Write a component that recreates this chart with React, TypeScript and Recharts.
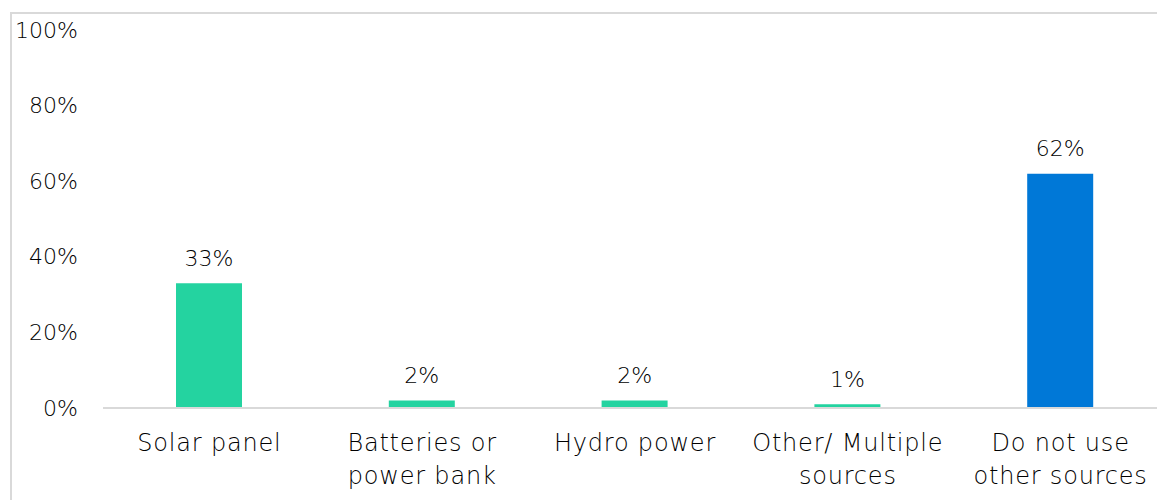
import React from 'react';
import { BarChart, Bar, XAxis, YAxis, Cell, LabelList } from 'recharts';

const categories = [
  'Solar panel',
  'Batteries or power bank',
  'Hydro power',
  'Other/ Multiple sources',
  'Do not use other sources',
];
// wrapped label lines per category
const categoryLines = [
  ['Solar panel'],
  ['Batteries or', 'power bank'],
  ['Hydro power'],
  ['Other/ Multiple', 'sources'],
  ['Do not use', 'other sources'],
];
const shares = [33, 2, 2, 1, 62];
const yTicks = [0, 20, 40, 60, 80, 100];

const GREEN = '#24D3A0';
const BLUE = '#0078D7';
const TEXT = '#000';
const FONT = '"DejaVu Sans", sans-serif';
const FONT_WEIGHT = 200;

const data = categories.map((name, i) => ({ name, value: shares[i] }));

const XTick = (props: any) => {
  const { x, y, index } = props;
  const lines = categoryLines[index] || [];
  return (
    <g>
      {lines.map((line, i) => (
        <text
          key={i}
          x={x}
          y={y + 27 + i * 33}
          textAnchor="middle"
          dominantBaseline="central"
          fontFamily={FONT}
          fontSize={24}
          fontWeight={FONT_WEIGHT}
          letterSpacing={0.8}
          fill={TEXT}
        >
          {line}
        </text>
      ))}
    </g>
  );
};

const YTick = (props: any) => {
  const { y, payload } = props;
  return (
    <text
      x={78}
      y={y}
      textAnchor="end"
      dominantBaseline="central"
      fontFamily={FONT}
      fontSize={22}
      fontWeight={FONT_WEIGHT}
      fill={TEXT}
    >
      {`${payload.value}%`}
    </text>
  );
};

const ValueLabel = (props: any) => {
  const { x, y, width, value } = props;
  return (
    <text
      x={x + width / 2}
      y={y - 25}
      textAnchor="middle"
      dominantBaseline="central"
      fontFamily={FONT}
      fontSize={22}
      fontWeight={FONT_WEIGHT}
      fill={TEXT}
    >
      {`${value}%`}
    </text>
  );
};

export default function App() {
  return (
    <div
      style={{
        position: 'absolute',
        left: 0,
        top: 0,
        width: 1157,
        height: 500,
        overflow: 'hidden',
        background: '#fff',
      }}
    >
      {/* chart frame: only the top and left edges fall inside the view */}
      <div
        style={{
          position: 'absolute',
          left: 10,
          top: 12,
          width: 1200,
          height: 600,
          borderTop: '2px solid #d9d9d9',
          borderLeft: '2px solid #d9d9d9',
        }}
      />
      <div style={{ position: 'absolute', left: 0, top: 0 }}>
        <BarChart
          width={1167}
          height={500}
          data={data}
          margin={{ top: 30, right: 0, bottom: 0, left: 0 }}
        >
          <YAxis
            domain={[0, 100]}
            ticks={yTicks}
            width={103}
            axisLine={false}
            tickLine={false}
            tick={<YTick />}
            interval={0}
          />
          <XAxis
            dataKey="name"
            height={92}
            axisLine={{ stroke: '#d9d9d9', strokeWidth: 2 }}
            tickLine={false}
            tick={<XTick />}
            interval={0}
          />
          <Bar dataKey="value" barSize={66} isAnimationActive={false}>
            {data.map((d, i) => (
              <Cell key={d.name} fill={i === data.length - 1 ? BLUE : GREEN} />
            ))}
            <LabelList dataKey="value" content={<ValueLabel />} />
          </Bar>
        </BarChart>
      </div>
    </div>
  );
}
